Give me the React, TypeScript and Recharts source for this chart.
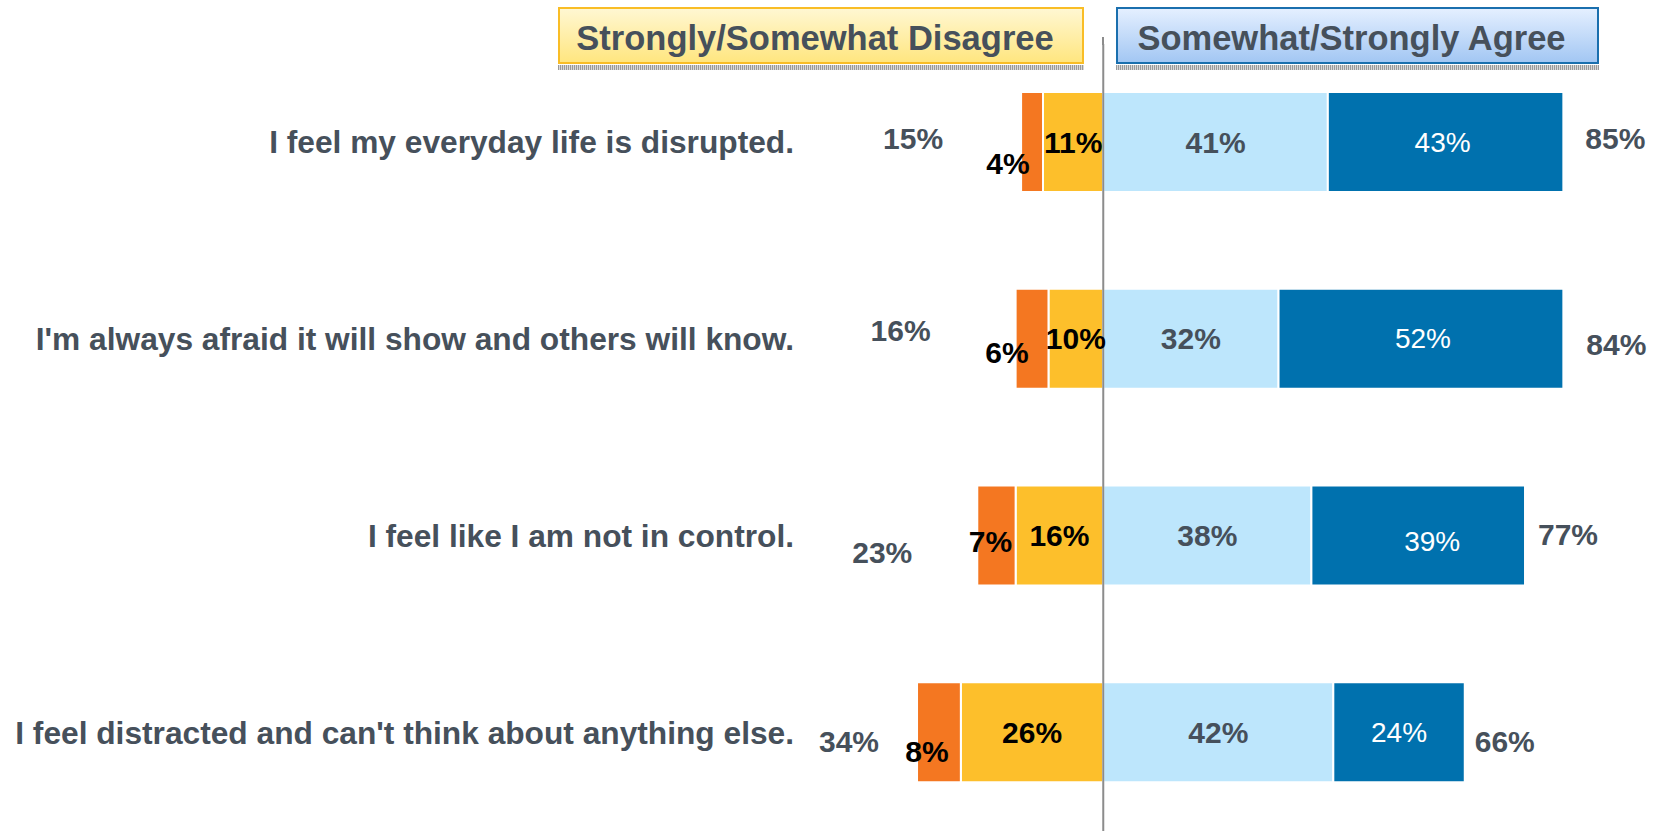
import React from "react";
import { BarChart, Bar, XAxis, YAxis, LabelList, ReferenceLine } from "recharts";

const statements = [
  "I feel my everyday life is disrupted.",
  "I'm always afraid it will show and others will know.",
  "I feel like I am not in control.",
  "I feel distracted and can't think about anything else.",
];
const stronglyDisagree = [4, 6, 7, 8];
const somewhatDisagree = [11, 10, 16, 26];
const somewhatAgree = [41, 32, 38, 42];
const stronglyAgree = [43, 52, 39, 24];
const disagreeTotals = [15, 16, 23, 34];
const agreeTotals = [85, 84, 77, 66];

// label nudges (px) — the source chart has hand-placed labels
const leftTotalNudge = [
  [-108, -4],
  [-115, -8],
  [-95, 17],
  [-68, 9],
];
const rightTotalNudge = [
  [52, -4],
  [53, 6],
  [43, -1],
  [40, 9],
];
const orangeNudge = [
  [-24, 21],
  [-25, 14],
  [-6, 6],
  [-12, 19],
];
const darkNudge = [
  [-3, 0],
  [2, 0],
  [14, 6],
  [0, 0],
];

const data = statements.map((name, i) => ({
  name,
  swd: -somewhatDisagree[i],
  sd: -stronglyDisagree[i],
  swa: somewhatAgree[i],
  sa: stronglyAgree[i],
}));

const TEXT = "#46505b";
const FONT = "'Liberation Sans', Arial, sans-serif";

const box = (props: any) => {
  const { x, y, width, height } = props;
  const x0 = Math.min(x, x + width);
  const w = Math.abs(width);
  return { x0, w, cy: y + height / 2 };
};

const CategoryTick = (props: any) => {
  const { x, y, payload } = props;
  return (
    <text
      x={x}
      y={y}
      textAnchor="end"
      dominantBaseline="central"
      fill={TEXT}
      fontFamily={FONT}
      fontWeight="bold"
      fontSize={31.7}
    >
      {payload.value}
    </text>
  );
};

const centerLabel = (color: string, size: number, bold: boolean, nudge?: number[][]) => (props: any) => {
  const { index, value } = props;
  const { x0, w, cy } = box(props);
  const n = nudge ? nudge[index] : [0, 0];
  return (
    <text
      x={x0 + w / 2 + n[0]}
      y={cy + n[1]}
      textAnchor="middle"
      dominantBaseline="central"
      fill={color}
      fontFamily={FONT}
      fontWeight={bold ? "bold" : "normal"}
      fontSize={size}
    >
      {Math.abs(value)}%
    </text>
  );
};

const LeftTotal = (props: any) => {
  const { index } = props;
  const { x0, cy } = box(props);
  const n = leftTotalNudge[index];
  return (
    <text
      x={x0 + n[0]}
      y={cy + n[1]}
      textAnchor="middle"
      dominantBaseline="central"
      fill={TEXT}
      fontFamily={FONT}
      fontWeight="bold"
      fontSize={30}
    >
      {disagreeTotals[index]}%
    </text>
  );
};

const RightTotal = (props: any) => {
  const { index } = props;
  const { x0, w, cy } = box(props);
  const n = rightTotalNudge[index];
  return (
    <text
      x={x0 + w + n[0]}
      y={cy + n[1]}
      textAnchor="middle"
      dominantBaseline="central"
      fill={TEXT}
      fontFamily={FONT}
      fontWeight="bold"
      fontSize={30}
    >
      {agreeTotals[index]}%
    </text>
  );
};

const shadow =
  "repeating-linear-gradient(90deg, #9a9a9a 0px, #9a9a9a 1px, #d8d8d8 1px, #d8d8d8 2px)";

const headerBase: React.CSSProperties = {
  position: "absolute",
  top: 7,
  height: 57,
  boxSizing: "border-box",
  display: "flex",
  alignItems: "center",
  justifyContent: "center",
  paddingTop: 5,
  paddingRight: 12,
  fontFamily: FONT,
  fontWeight: "bold",
  fontSize: 34.5,
  color: TEXT,
};

const App = () => {
  return (
    <div
      style={{
        position: "fixed",
        left: 0,
        top: 0,
        width: 1670,
        height: 833,
        background: "#fff",
      }}
    >
      <BarChart
        width={1670}
        height={833}
        data={data}
        layout="vertical"
        stackOffset="sign"
        barSize={100}
        margin={{ top: 44, right: 19, left: 0, bottom: 2 }}
      >
        <XAxis type="number" hide domain={[-55, 100]} />
        <YAxis
          type="category"
          dataKey="name"
          width={802}
          axisLine={false}
          tickLine={false}
          tick={<CategoryTick />}
        />
        <Bar dataKey="swd" stackId="a" fill="#fdbf2b" stroke="#fff" strokeWidth={2} isAnimationActive={false}>
          <LabelList dataKey="swd" content={centerLabel("#000", 30, true)} />
        </Bar>
        <Bar dataKey="sd" stackId="a" fill="#f47721" stroke="#fff" strokeWidth={2} isAnimationActive={false}>
          <LabelList dataKey="sd" content={centerLabel("#000", 30, true, orangeNudge)} />
          <LabelList dataKey="sd" content={<LeftTotal />} />
        </Bar>
        <Bar dataKey="swa" stackId="a" fill="#bde6fc" stroke="#fff" strokeWidth={2} isAnimationActive={false}>
          <LabelList dataKey="swa" content={centerLabel(TEXT, 30, true)} />
        </Bar>
        <Bar dataKey="sa" stackId="a" fill="#0071ae" stroke="#fff" strokeWidth={2} isAnimationActive={false}>
          <LabelList dataKey="sa" content={centerLabel("#fff", 28, false, darkNudge)} />
          <LabelList dataKey="sa" content={<RightTotal />} />
        </Bar>
        <ReferenceLine x={0} stroke="#8c8c8c" strokeWidth={2} />
      </BarChart>

      {/* top stub of the zero line, above the plot area */}
      <div style={{ position: "absolute", left: 1102, top: 37, width: 2, height: 8, background: "#8c8c8c" }} />

      <div
        style={{
          ...headerBase,
          left: 558,
          width: 526,
          border: "2px solid #f9bd26",
          background: "linear-gradient(180deg, #fff7d2 0%, #ffe680 100%)",
        }}
      >
        Strongly/Somewhat Disagree
      </div>
      <div style={{ position: "absolute", left: 558, top: 65, width: 526, height: 5, background: shadow }} />

      <div
        style={{
          ...headerBase,
          left: 1116,
          width: 483,
          border: "2px solid #1a6fae",
          background: "linear-gradient(180deg, #e4efff 0%, #a3c7f3 100%)",
        }}
      >
        Somewhat/Strongly Agree
      </div>
      <div style={{ position: "absolute", left: 1116, top: 65, width: 483, height: 5, background: shadow }} />
    </div>
  );
};

export default App;
